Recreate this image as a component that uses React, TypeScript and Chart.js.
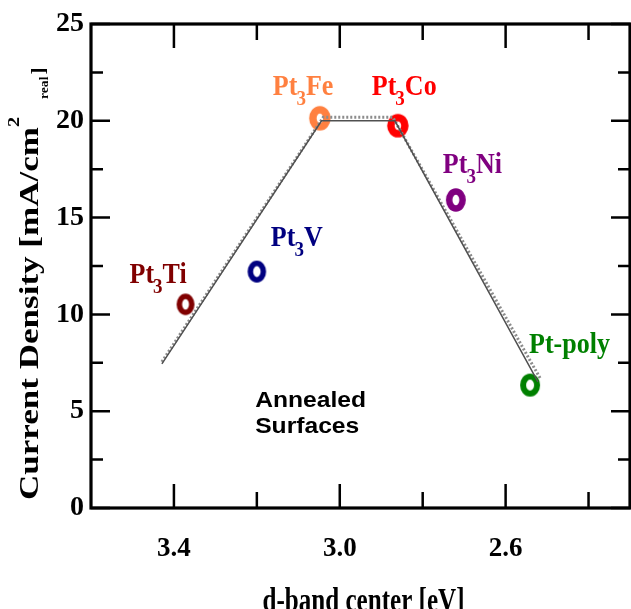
import React, { useEffect, useRef } from "react";
import { Chart, registerables } from "chart.js";

Chart.register(...registerables);

// ---------- data ----------
const materials = ["Pt3Ti", "Pt3V", "Pt3Fe", "Pt3Co", "Pt3Ni", "Pt-poly"];
const dBandCenter = [3.372, 3.2, 3.048, 2.86, 2.72, 2.541];
const currentDensity = [10.52, 12.21, 20.13, 19.75, 15.91, 6.35];

const trendSolidX = [3.429, 3.044, 2.867, 2.522];
const trendSolidY = [7.44, 20.0, 20.0, 6.51];
const trendDottedX = [3.429, 3.04, 2.872, 2.517];
const trendDottedY = [7.55, 20.18, 20.18, 6.71];

const xTickLabels = [3.4, 3.0, 2.6];
const xMinorTicks = [3.2, 2.8, 2.4];
const yTickLabels = [0, 5, 10, 15, 20, 25];
const yMinorTicks = [2.5, 7.5, 12.5, 17.5, 22.5];

const xTitle = "d-band center [eV]";
const yTitleMain = "Current Density [mA/cm";
const yTitleSup = "2";
const yTitleSub = "real";
const yTitleEnd = "]";
const noteLines = ["Annealed", "Surfaces"];
const noteAnchor = { x: 3.204, y: [5.22, 3.87] };

// ---------- styles ----------
const pointColors = [
  "rgb(128,0,0)",
  "rgb(0,0,128)",
  "rgb(255,128,64)",
  "rgb(255,0,0)",
  "rgb(128,0,128)",
  "rgb(0,128,0)",
];
const ringStyles = [
  { rx: 6.2, ry: 8, lw: 5.5 },
  { rx: 6.5, ry: 8.2, lw: 5.5 },
  { rx: 7, ry: 8.5, lw: 7.5 },
  { rx: 7, ry: 8, lw: 7.5 },
  { rx: 6.7, ry: 8.6, lw: 6.5 },
  { rx: 7, ry: 8.5, lw: 6 },
];
const labelOffsets = [
  { dx: -56, dy: -21 },
  { dx: 14, dy: -26 },
  { dx: -47, dy: -23 },
  { dx: -26, dy: -31 },
  { dx: -13, dy: -27 },
  { dx: -1, dy: -32 },
];

const SERIF = '"Liberation Serif", "Times New Roman", serif';
const SANS = '"Liberation Sans", Arial, sans-serif';

function makeRing(color: string, rx: number, ry: number, lw: number) {
  const c = document.createElement("canvas");
  const w = Math.ceil(2 * rx + lw) + 4;
  const h = Math.ceil(2 * ry + lw) + 4;
  c.width = w;
  c.height = h;
  const g = c.getContext("2d")!;
  g.strokeStyle = color;
  g.lineWidth = lw;
  g.beginPath();
  g.ellipse(w / 2, h / 2, rx, ry, 0, 0, Math.PI * 2);
  g.stroke();
  return c;
}

function measure(ctx: CanvasRenderingContext2D, text: string, font: string) {
  ctx.save();
  ctx.font = font;
  const w = ctx.measureText(text).width;
  ctx.restore();
  return w;
}

function drawText(
  ctx: CanvasRenderingContext2D,
  text: string,
  x: number,
  y: number,
  font: string,
  sx: number,
  sy: number
) {
  ctx.save();
  ctx.translate(x, y);
  ctx.scale(sx, sy);
  ctx.font = font;
  ctx.textBaseline = "alphabetic";
  ctx.textAlign = "left";
  ctx.fillText(text, 0, 0);
  const w = ctx.measureText(text).width * sx;
  ctx.restore();
  return w;
}

const overlayPlugin = {
  id: "overlay",
  afterDraw(chart: any) {
    const { ctx, chartArea: a, scales } = chart;
    const xs = scales.x;
    const ys = scales.y;
    ctx.save();

    // ticks on all sides
    ctx.strokeStyle = "#000";
    ctx.lineWidth = 2.5;
    ctx.beginPath();
    const tickX = (vals: number[], len: number) =>
      vals.forEach((v) => {
        const px = xs.getPixelForValue(v);
        ctx.moveTo(px, a.bottom);
        ctx.lineTo(px, a.bottom - len);
        ctx.moveTo(px, a.top);
        ctx.lineTo(px, a.top + len);
      });
    const tickY = (vals: number[], len: number) =>
      vals.forEach((v) => {
        const py = ys.getPixelForValue(v);
        ctx.moveTo(a.left, py);
        ctx.lineTo(a.left + len, py);
        ctx.moveTo(a.right, py);
        ctx.lineTo(a.right - len, py);
      });
    tickX(xTickLabels, 24);
    tickX(xMinorTicks, 16);
    tickY(yTickLabels, 19);
    tickY(yMinorTicks, 12);
    ctx.stroke();

    // frame
    ctx.lineWidth = 3.2;
    ctx.strokeRect(a.left, a.top, a.right - a.left, a.bottom - a.top);

    // point labels
    materials.forEach((name, i) => {
      const px = xs.getPixelForValue(dBandCenter[i]) + labelOffsets[i].dx;
      const py = ys.getPixelForValue(currentDensity[i]) + labelOffsets[i].dy;
      ctx.fillStyle = pointColors[i];
      const m = name.match(/^(\D+?)(\d+)(.*)$/);
      const mainFont = `bold 26px ${SERIF}`;
      const subFont = `bold 19px ${SERIF}`;
      if (m) {
        let x = px;
        x += drawText(ctx, m[1], x, py, mainFont, 1, 1.13) - 1;
        x += drawText(ctx, m[2], x, py + 10, subFont, 1, 1.13);
        drawText(ctx, m[3], x, py, mainFont, 1, 1.13);
      } else {
        drawText(ctx, name, px, py, mainFont, 1, 1.13);
      }
    });

    // note text
    ctx.fillStyle = "#000";
    noteLines.forEach((line, k) => {
      drawText(
        ctx,
        line,
        xs.getPixelForValue(noteAnchor.x),
        ys.getPixelForValue(noteAnchor.y[k]),
        `bold 22px ${SANS}`,
        1.12,
        1
      );
    });

    // x title
    const xFont = `bold 33px ${SERIF}`;
    const tw = measure(ctx, xTitle, xFont) * 0.76;
    drawText(ctx, xTitle, (a.left + a.right) / 2 + 3 - tw / 2, 611, xFont, 0.76, 1);

    // y title (rotated)
    ctx.save();
    ctx.translate(37.5, 500);
    ctx.rotate(-Math.PI / 2);
    ctx.fillStyle = "#000";
    const yFont = `bold 28px ${SERIF}`;
    const s = 373 / measure(ctx, yTitleMain, yFont);
    let lx = 0;
    lx += drawText(ctx, yTitleMain, lx, 0, yFont, s, 1);
    drawText(ctx, yTitleSup, lx, -19, `bold 17px ${SERIF}`, 1.2, 1);
    lx += 28;
    lx += drawText(ctx, yTitleSub, lx, 10.5, `bold 13px ${SERIF}`, 1.05, 1);
    drawText(ctx, yTitleEnd, lx + 2, 6, `bold 19px ${SERIF}`, 1.1, 1);
    ctx.restore();

    ctx.restore();
  },
};

export default function App() {
  const ref = useRef<HTMLCanvasElement>(null);
  useEffect(() => {
    const rings = pointColors.map((c, i) =>
      makeRing(c, ringStyles[i].rx, ringStyles[i].ry, ringStyles[i].lw)
    );
    const chart = new Chart(ref.current!, {
      type: "scatter",
      data: {
        datasets: [
          {
            data: trendSolidX.map((x, i) => ({ x, y: trendSolidY[i] })),
            showLine: true,
            borderColor: "rgb(80,80,80)",
            borderWidth: 1.5,
            pointRadius: 0,
            fill: false,
          } as any,
          {
            data: trendDottedX.map((x, i) => ({ x, y: trendDottedY[i] })),
            showLine: true,
            borderColor: "rgb(140,140,140)",
            borderWidth: 3,
            borderDash: [2, 2],
            pointRadius: 0,
            fill: false,
          },
          {
            data: dBandCenter.map((x, i) => ({ x, y: currentDensity[i] })),
            pointStyle: rings as any,
            pointRadius: 10,
            showLine: false,
          },
        ],
      },
      options: {
        animation: false,
        responsive: false,
        layout: { autoPadding: false, padding: { left: 0, top: 24, right: 1, bottom: 0 } },
        plugins: { legend: { display: false }, tooltip: { enabled: false } },
        scales: {
          x: {
            type: "linear",
            min: 2.3,
            max: 3.6,
            reverse: true,
            grid: { display: false, drawTicks: false },
            border: { display: false },
            ticks: {
              color: "#000",
              padding: 25,
              font: { family: SERIF, size: 27, weight: "bold" },
              callback: (v: any) => Number(v).toFixed(1),
            },
            afterBuildTicks: (sc: any) => {
              sc.ticks = xTickLabels.map((value) => ({ value }));
            },
            afterFit: (sc: any) => {
              sc.height = 101;
              sc.paddingLeft = 0;
              sc.paddingRight = 0;
            },
          },
          y: {
            type: "linear",
            min: 0,
            max: 25,
            grid: { display: false, drawTicks: false },
            border: { display: false },
            ticks: {
              color: "#000",
              padding: 7,
              font: { family: SERIF, size: 28, weight: "bold" },
              callback: (v: any) => String(v),
            },
            afterBuildTicks: (sc: any) => {
              sc.ticks = yTickLabels.map((value) => ({ value }));
            },
            afterFit: (sc: any) => {
              sc.width = 91;
              sc.paddingTop = 0;
              sc.paddingBottom = 0;
            },
          },
        },
      },
      plugins: [overlayPlugin],
    });
    return () => chart.destroy();
  }, []);
  return (
    <div
      style={{
        position: "fixed",
        left: 0,
        top: 0,
        width: 631,
        height: 609,
        background: "#fff",
      }}
    >
      <canvas ref={ref} width={631} height={609} style={{ display: "block" }} />
    </div>
  );
}
